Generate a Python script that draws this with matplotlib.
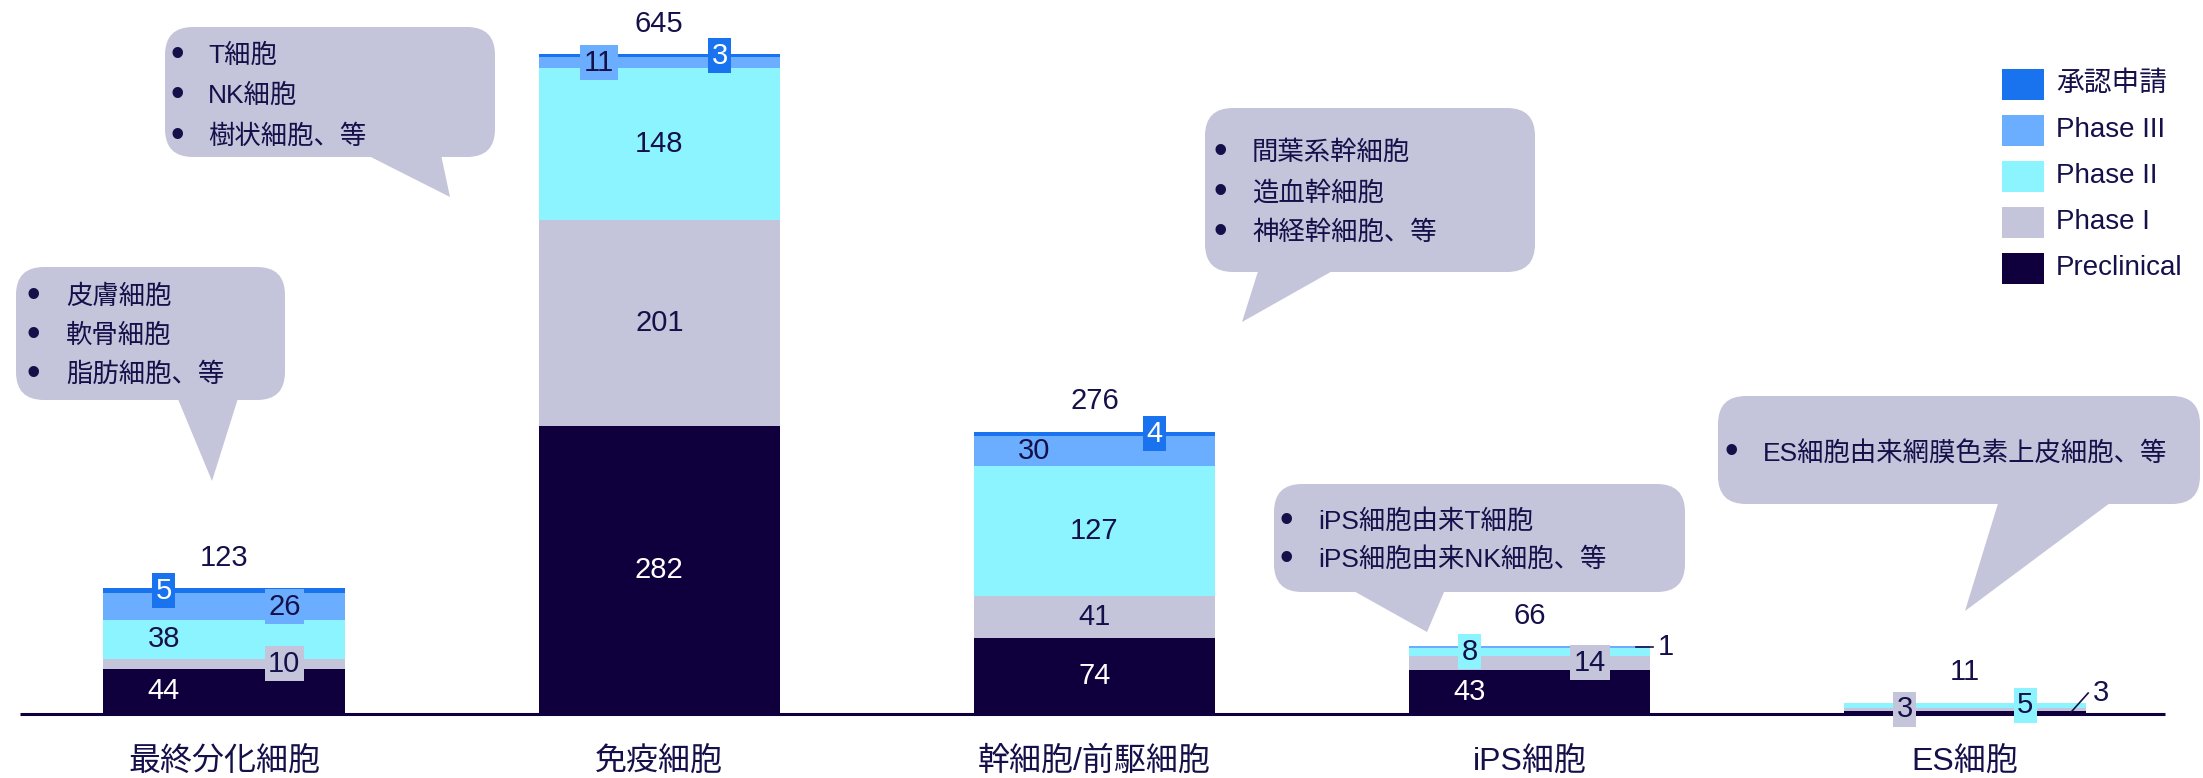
import numpy as np
import matplotlib
matplotlib.use('Agg')
import matplotlib.pyplot as plt
import matplotlib.transforms as mtransforms
from matplotlib.patches import FancyBboxPatch, Polygon, Rectangle

plt.rcParams['font.family'] = ['Liberation Sans', 'Noto Sans CJK JP']

# 細胞種別・開発段階別のパイプライン数
categories = ['最終分化細胞', '免疫細胞', '幹細胞/前駆細胞', 'iPS細胞', 'ES細胞']
phases = ['Preclinical', 'Phase I', 'Phase II', 'Phase III', '承認申請']
preclinical = [44, 282, 74, 43, 3]
phase1 = [10, 201, 41, 14, 3]
phase2 = [38, 148, 127, 8, 5]
phase3 = [26, 11, 30, 1, 0]
approved = [5, 3, 4, 0, 0]

callout_items = [
    ['皮膚細胞', '軟骨細胞', '脂肪細胞、等'],
    ['T細胞', 'NK細胞', '樹状細胞、等'],
    ['間葉系幹細胞', '造血幹細胞', '神経幹細胞、等'],
    ['iPS細胞由来T細胞', 'iPS細胞由来NK細胞、等'],
    ['ES細胞由来網膜色素上皮細胞、等'],
]

NAVY = '#0F003D'
TEXT = '#15104A'
colors = ['#0F003D', '#C4C4DA', '#8CF4FF', '#6BAEFF', '#1A73EE']
label_colors = ['white', TEXT, TEXT, TEXT, 'white']
BUBBLE = '#C4C4DA'

# label placement per bar and stage: l/c/r = left/center/right, b = boxed
label_layout = [
    ['l', 'rb', 'l', 'rb', 'lb'],
    ['c', 'c', 'c', 'lb', 'rb'],
    ['c', 'c', 'c', 'l', 'rb'],
    ['l', 'rb', 'lb', 'lead', None],
    ['lead', 'lb', 'rb', None, None],
]

W, H = 2203, 778
fig = plt.figure(figsize=(W / 100, H / 100), dpi=100)
ax = fig.add_axes([0, 0, 1, 1])
ax.axis('off')

spacing = 435.25
px_per_unit = 1.023
ax.set_xlim(-224 / spacing, (W - 224) / spacing)
ax.set_ylim(-(H - 714) / px_per_unit, 714 / px_per_unit)

x = np.arange(len(categories))
width = 0.554
series = [preclinical, phase1, phase2, phase3, approved]

bottom = np.zeros(len(categories))
for vals, name, c in zip(series, phases, colors):
    ax.bar(x, vals, width, bottom=bottom, color=c, linewidth=0, label=name, zorder=2)
    bottom += np.array(vals)
totals = bottom

offs = {'l': -width / 4, 'c': 0.0, 'r': width / 4}
for i in range(len(categories)):
    base = 0
    for j, vals in enumerate(series):
        v = vals[i]
        if v == 0:
            continue
        yc = base + v / 2
        spec = label_layout[i][j]
        if spec == 'lead':
            if j == 0:
                y_end = 20.5
            else:
                y_end = yc
            ax.plot([x[i] + 0.243, x[i] + 0.283], [yc, y_end], color=TEXT, lw=1.2, zorder=4)
            ax.text(x[i] + 0.294, y_end, str(v), ha='left', va='center',
                    fontsize=21, color=TEXT, zorder=5)
        else:
            kw = {}
            if spec.endswith('b'):
                kw['bbox'] = dict(boxstyle='square,pad=0.12', fc=colors[j], ec='none')
            ax.text(x[i] + offs[spec[0]], yc, str(v), ha='center', va='center',
                    fontsize=21, color=label_colors[j], zorder=5, **kw)
        base += v
    ax.annotate(f'{int(totals[i])}', (x[i], totals[i]), xytext=(0, 22),
                textcoords='offset points', ha='center', va='center',
                fontsize=21, color=TEXT)
    ax.text(x[i], -47, categories[i], ha='center', va='center', fontsize=23, color=TEXT)

# baseline
ax.plot([(20 - 224) / spacing, (2165 - 224) / spacing], [0, 0], color=NAVY,
        lw=2.2, solid_capstyle='butt', zorder=3)

# pixel coordinates measured from the top-left corner
px = mtransforms.Affine2D().scale(0.01, -0.01).translate(0, H / 100) + fig.dpi_scale_trans

bubbles = [
    dict(box=(16, 267, 285, 400), tail=[(175, 392), (240, 392), (212, 481)],
         bx=33, tx=66, rows=[297, 336, 375]),
    dict(box=(165, 27, 495, 157), tail=[(357, 150), (440, 150), (450, 197)],
         bx=177, tx=208, rows=[56, 96, 137]),
    dict(box=(1205, 108, 1535, 272), tail=[(1260, 265), (1343, 265), (1242, 322)],
         bx=1220, tx=1252, rows=[153, 193, 233]),
    dict(box=(1274, 484, 1685, 592), tail=[(1343, 585), (1447, 585), (1427, 632)],
         bx=1286, tx=1318, rows=[522, 560]),
    dict(box=(1718, 396, 2200, 504), tail=[(2000, 497), (2118, 497), (1965, 611)],
         bx=1731, tx=1763, rows=[453]),
]

for b, items in zip(bubbles, callout_items):
    x0, y0, x1, y1 = b['box']
    box = FancyBboxPatch((x0, y0), x1 - x0, y1 - y0,
                         boxstyle='round,pad=0,rounding_size=28',
                         fc=BUBBLE, ec='none', transform=px, zorder=6)
    fig.add_artist(box)
    fig.add_artist(Polygon(b['tail'], closed=True, fc=BUBBLE, ec='none',
                           transform=px, zorder=6))
    for row, item in zip(b['rows'], items):
        fig.text(b['bx'], row, '•', transform=px, ha='center', va='center',
                 fontsize=28, color=TEXT, zorder=7)
        fig.text(b['tx'], row, item, transform=px, ha='left', va='center',
                 fontsize=19, color=TEXT, zorder=7)

# legend, top stage first
for k, j in enumerate(range(len(phases) - 1, -1, -1)):
    yc = 84 + 46 * k
    fig.add_artist(Rectangle((2002, yc - 15.5), 42, 31, fc=colors[j], ec='none',
                             transform=px))
    fig.text(2056, yc, phases[j], transform=px, ha='left', va='center',
             fontsize=20, color=TEXT)

fig.savefig('out.png', dpi=100)
